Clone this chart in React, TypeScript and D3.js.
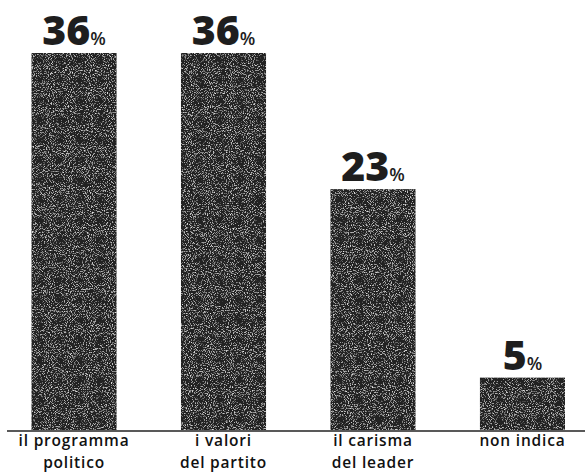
import React, { useEffect } from "react";
import * as d3 from "d3";

const categories = ["il programma|politico", "i valori|del partito", "il carisma|del leader", "non indica"];
const values = [36, 36, 23, 5];

const W = 585;
const H = 473;

export default function App() {
  useEffect(() => {
    document.body.style.margin = "0";
  }, []);

  const x = d3.scaleBand<string>().domain(categories).range([31.5, 565]).paddingInner(0.431).paddingOuter(0);
  const y = d3.scaleLinear().domain([0, 36]).range([430, 53]);

  return (
    <svg width={W} height={H} style={{ display: "block", background: "#fff" }}>
      <defs>
        <filter id="grain" x="0" y="0" width="100%" height="100%">
          <feTurbulence type="fractalNoise" baseFrequency="0.95" numOctaves="2" seed="7" result="n" />
          <feColorMatrix in="n" type="matrix" values="0 0 0 0 0.85  0 0 0 0 0.85  0 0 0 0 0.85  3 0 0 0 -1.6" result="w" />
          <feComposite in="w" in2="SourceGraphic" operator="in" result="specks" />
          <feMerge>
            <feMergeNode in="SourceGraphic" />
            <feMergeNode in="specks" />
          </feMerge>
        </filter>
      </defs>
      {categories.map((c, i) => {
        const bx = x(c)!;
        const bw = x.bandwidth();
        const cx = bx + bw / 2;
        const top = y(values[i]);
        const lines = c.split("|");
        return (
          <g key={c}>
            <rect x={bx} y={top} width={bw} height={y(0) - top} fill="#222" filter="url(#grain)" />
            <text x={cx} y={top - 8} textAnchor="middle" fontFamily="'Open Sans', sans-serif" fill="#1e1e1e">
              <tspan fontSize={41} fontWeight={800}>{values[i]}</tspan>
              <tspan fontSize={18} fontWeight={600}>%</tspan>
            </text>
            {lines.map((l, j) => (
              <text key={j} x={cx} y={446 + j * 21.5} textAnchor="middle" fontFamily="'Open Sans', sans-serif" fontSize={15.5} fontWeight={600} letterSpacing={0.8} fill="#111">
                {l}
              </text>
            ))}
          </g>
        );
      })}
      <line x1={7} x2={585} y1={431} y2={431} stroke="#222" strokeWidth={1.5} />
    </svg>
  );
}
